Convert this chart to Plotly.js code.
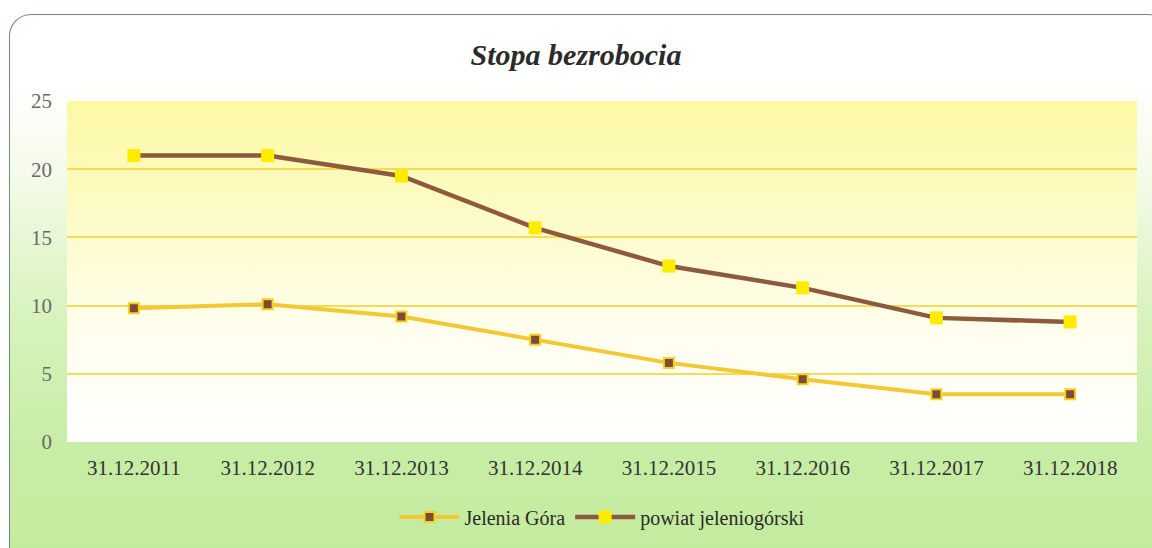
<!DOCTYPE html>
<html>
<head>
<meta charset="utf-8">
<script src="https://cdn.plot.ly/plotly-3.0.1.min.js"></script>
<style>
  html, body { margin: 0; padding: 0; background: #ffffff; }
  #wrap { position: relative; width: 1152px; height: 548px; overflow: hidden; }
  #frame {
    position: absolute; left: 9px; top: 14px; width: 1150px; height: 540px;
    box-sizing: border-box;
    border: 1.5px solid #6f8a80; border-right: none; border-bottom: none;
    border-top-left-radius: 22px; border-top-right-radius: 10px;
    background: linear-gradient(to bottom, #ffffff 0%, #ffffff 12%, #f4fbe9 30%, #d8f3bd 55%, #c8eda6 80%, #c3eb9e 100%);
  }
  #chart { position: absolute; left: 0; top: 0; width: 1152px; height: 548px; }
</style>
</head>
<body>
<div id="wrap">
  <div id="frame"></div>
  <div id="chart"></div>
</div>
<script>
const categories = ["31.12.2011", "31.12.2012", "31.12.2013", "31.12.2014", "31.12.2015", "31.12.2016", "31.12.2017", "31.12.2018"];
const jeleniaGora = [9.8, 10.1, 9.2, 7.5, 5.8, 4.6, 3.5, 3.5];
const powiatJeleniogorski = [21.0, 21.0, 19.5, 15.7, 12.9, 11.3, 9.1, 8.8];
const yTicks = [0, 5, 10, 15, 20, 25];
const seriesNames = ["Jelenia Góra", "powiat jeleniogórski"];
const chartTitle = "Stopa bezrobocia";

const SERIF = 'Liberation Serif';

const gradSvg = '<svg xmlns="http://www.w3.org/2000/svg" width="10" height="100" preserveAspectRatio="none">' +
  '<defs><linearGradient id="g" x1="0" y1="0" x2="0" y2="1">' +
  '<stop offset="0" stop-color="#fbf9a4"/><stop offset="0.35" stop-color="#fdfbc8"/>' +
  '<stop offset="0.7" stop-color="#fffef0"/><stop offset="1" stop-color="#ffffff"/>' +
  '</linearGradient></defs><rect width="10" height="100" fill="url(#g)"/></svg>';
const gradUri = 'data:image/svg+xml;charset=utf-8,' + encodeURIComponent(gradSvg);

const traces = [
  {
    x: categories, y: jeleniaGora, name: seriesNames[0], type: 'scatter', mode: 'lines+markers',
    line: { color: '#f4c832', width: 4 },
    marker: { symbol: 'square', size: 10, color: '#7d4a3c', line: { color: '#f7d21a', width: 2 } }
  },
  {
    x: categories, y: powiatJeleniogorski, name: seriesNames[1], type: 'scatter', mode: 'lines+markers',
    line: { color: '#8e5a3e', width: 4.5 },
    marker: { symbol: 'square', size: 13, color: '#ffec00', line: { color: '#ffec00', width: 0 } }
  }
];

const layout = {
  width: 1152, height: 548,
  margin: { l: 67, r: 15, t: 101, b: 104 },
  paper_bgcolor: 'rgba(0,0,0,0)',
  plot_bgcolor: 'rgba(0,0,0,0)',
  font: { family: SERIF },
  title: {
    text: '<b><i>' + chartTitle + '</i></b>',
    font: { family: SERIF, size: 30, color: '#2b2b2b' },
    x: 0.5, xanchor: 'center', y: 0.9, yanchor: 'middle', yref: 'container'
  },
  xaxis: {
    type: 'category', range: [-0.5, 7.5],
    showgrid: false, zeroline: false, showline: false, ticks: '',
    tickfont: { family: SERIF, size: 21, color: '#333333' },
    ticklabelstandoff: 11
  },
  yaxis: {
    range: [0, 25], tickvals: yTicks, ticktext: yTicks.map(String),
    showgrid: true, gridcolor: '#f4dc55', gridwidth: 2,
    zeroline: false, showline: false, ticks: '',
    tickfont: { family: SERIF, size: 21, color: '#6a6a6a' },
    ticklabelstandoff: 14
  },
  legend: {
    orientation: 'h', x: 0.5, xanchor: 'center', y: -0.22, yanchor: 'middle',
    font: { family: SERIF, size: 20, color: '#2a2a2a' },
    bgcolor: 'rgba(0,0,0,0)', itemwidth: 60
  },
  images: [{
    source: gradUri, xref: 'paper', yref: 'paper', x: 0, y: 1, sizex: 1, sizey: 1,
    xanchor: 'left', yanchor: 'top', sizing: 'stretch', layer: 'below'
  }],
  showlegend: true
};

Plotly.newPlot('chart', traces, layout, { displayModeBar: false, staticPlot: true });
</script>
</body>
</html>
